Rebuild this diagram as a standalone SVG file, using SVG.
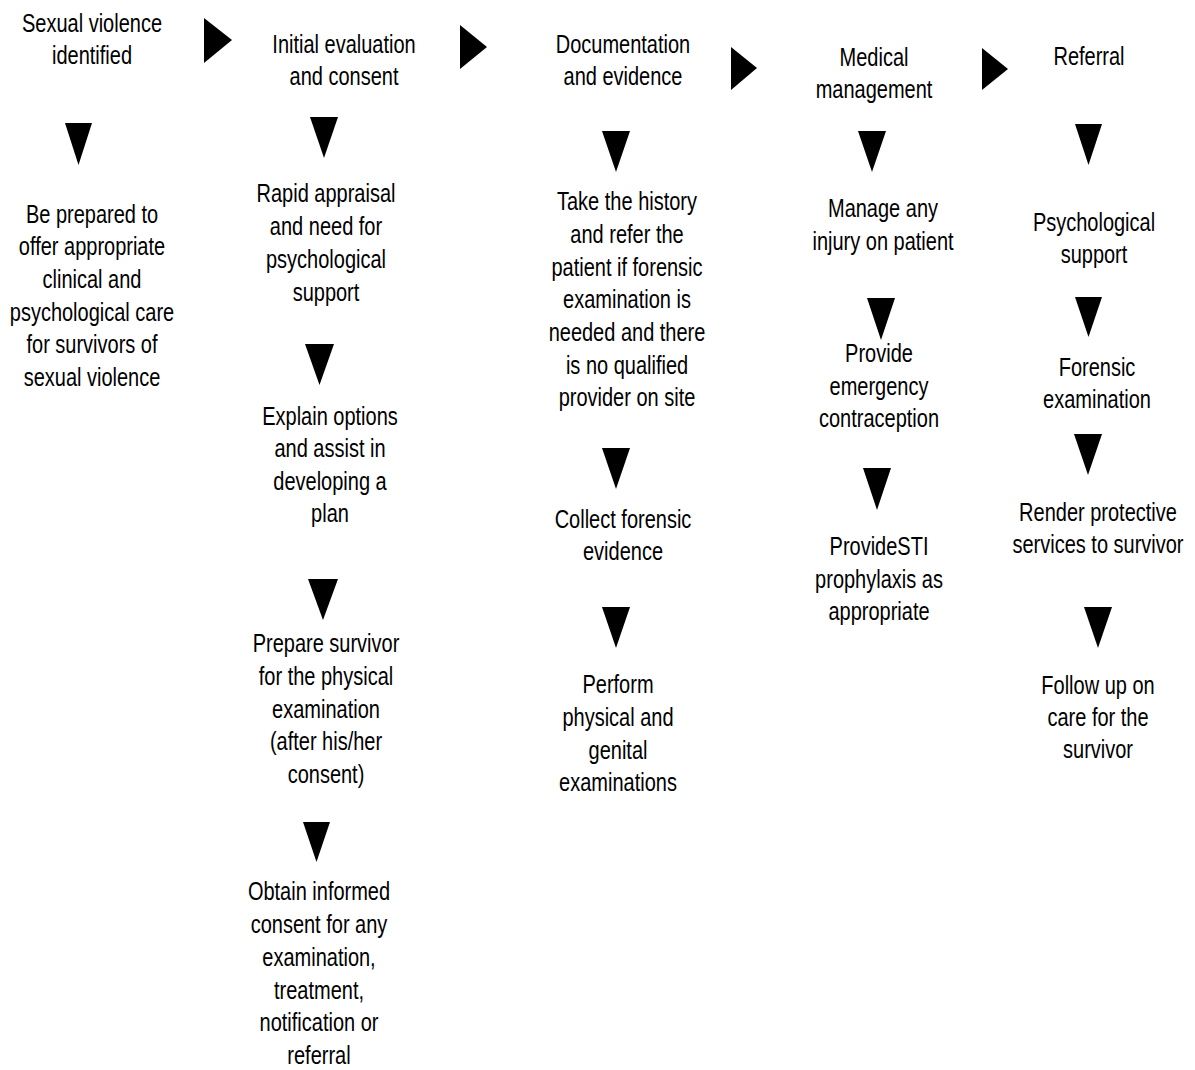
<svg xmlns="http://www.w3.org/2000/svg" width="1195" height="1070" viewBox="0 0 1195 1070">
<style>
text{font-family:"Liberation Sans",Arial,sans-serif;font-size:25px;fill:#000;text-anchor:middle}
.tri{fill:#000;stroke:none}
</style>
<rect width="1195" height="1070" fill="#fff"/>
<g id="connectors">
<polygon class="tri" points="204,18 204,63 232,40"/>
<polygon class="tri" points="460,25 460,69 487,47"/>
<polygon class="tri" points="731,47 731,90 757,68"/>
<polygon class="tri" points="982,48 982,90 1008,69"/>
<polygon class="tri" points="65,123 92,123 78.5,165"/>
<polygon class="tri" points="310,117 338,117 324,158"/>
<polygon class="tri" points="305,344 334,344 319.5,385"/>
<polygon class="tri" points="308,579 338,579 323,620"/>
<polygon class="tri" points="303,822 330,822 316.5,862"/>
<polygon class="tri" points="602,131 630,131 616,172"/>
<polygon class="tri" points="602,448 630,448 616,489"/>
<polygon class="tri" points="602,607 630,607 616,648"/>
<polygon class="tri" points="858,131 886,131 872,172"/>
<polygon class="tri" points="867,298 895,298 881,340"/>
<polygon class="tri" points="863,468 891,468 877,510"/>
<polygon class="tri" points="1075,124 1102,124 1088.5,165"/>
<polygon class="tri" points="1075,297 1102,297 1088.5,337"/>
<polygon class="tri" points="1074,434 1102,434 1088,475"/>
<polygon class="tri" points="1084,607 1112,607 1098,648"/>
</g>
<g id="n-sv-identified" transform="translate(92 0) scale(0.8 1)"><text x="0" y="32">Sexual violence</text><text x="0" y="64">identified</text></g>
<g id="n-be-prepared" transform="translate(92 0) scale(0.8 1)"><text x="0" y="223">Be prepared to</text><text x="0" y="255">offer appropriate</text><text x="0" y="288">clinical and</text><text x="0" y="321">psychological care</text><text x="0" y="353">for survivors of</text><text x="0" y="386">sexual violence</text></g>
<g id="n-initial" transform="translate(344 0) scale(0.8 1)"><text x="0" y="53">Initial evaluation</text><text x="0" y="85">and consent</text></g>
<g id="n-rapid" transform="translate(326 0) scale(0.8 1)"><text x="0" y="202">Rapid appraisal</text><text x="0" y="235">and need for</text><text x="0" y="268">psychological</text><text x="0" y="301">support</text></g>
<g id="n-explain" transform="translate(330 0) scale(0.8 1)"><text x="0" y="425">Explain options</text><text x="0" y="457">and assist in</text><text x="0" y="490">developing a</text><text x="0" y="522">plan</text></g>
<g id="n-prepare" transform="translate(326 0) scale(0.8 1)"><text x="0" y="652">Prepare survivor</text><text x="0" y="685">for the physical</text><text x="0" y="718">examination</text><text x="0" y="750">(after his/her</text><text x="0" y="783">consent)</text></g>
<g id="n-obtain" transform="translate(319 0) scale(0.8 1)"><text x="0" y="900">Obtain informed</text><text x="0" y="933">consent for any</text><text x="0" y="966">examination,</text><text x="0" y="999">treatment,</text><text x="0" y="1031">notification or</text><text x="0" y="1064">referral</text></g>
<g id="n-documentation" transform="translate(623 0) scale(0.8 1)"><text x="0" y="53">Documentation</text><text x="0" y="85">and evidence</text></g>
<g id="n-history" transform="translate(627 0) scale(0.8 1)"><text x="0" y="210">Take the history</text><text x="0" y="243">and refer the</text><text x="0" y="276">patient if forensic</text><text x="0" y="308">examination is</text><text x="0" y="341">needed and there</text><text x="0" y="374">is no qualified</text><text x="0" y="406">provider on site</text></g>
<g id="n-collect" transform="translate(623 0) scale(0.8 1)"><text x="0" y="528">Collect forensic</text><text x="0" y="560">evidence</text></g>
<g id="n-perform" transform="translate(618 0) scale(0.8 1)"><text x="0" y="693">Perform</text><text x="0" y="726">physical and</text><text x="0" y="759">genital</text><text x="0" y="791">examinations</text></g>
<g id="n-medical" transform="translate(874 0) scale(0.8 1)"><text x="0" y="66">Medical</text><text x="0" y="98">management</text></g>
<g id="n-manage" transform="translate(883 0) scale(0.8 1)"><text x="0" y="217">Manage any</text><text x="0" y="250">injury on patient</text></g>
<g id="n-ec" transform="translate(879 0) scale(0.8 1)"><text x="0" y="362">Provide</text><text x="0" y="395">emergency</text><text x="0" y="427">contraception</text></g>
<g id="n-sti" transform="translate(879 0) scale(0.8 1)"><text x="0" y="555">ProvideSTI</text><text x="0" y="588">prophylaxis as</text><text x="0" y="620">appropriate</text></g>
<g id="n-referral" transform="translate(1089 0) scale(0.8 1)"><text x="0" y="65">Referral</text></g>
<g id="n-psych" transform="translate(1094 0) scale(0.8 1)"><text x="0" y="231">Psychological</text><text x="0" y="263">support</text></g>
<g id="n-forensic" transform="translate(1097 0) scale(0.8 1)"><text x="0" y="376">Forensic</text><text x="0" y="408">examination</text></g>
<g id="n-render" transform="translate(1098 0) scale(0.8 1)"><text x="0" y="521">Render protective</text><text x="0" y="553">services to survivor</text></g>
<g id="n-follow" transform="translate(1098 0) scale(0.8 1)"><text x="0" y="694">Follow up on</text><text x="0" y="726">care for the</text><text x="0" y="758">survivor</text></g>
</svg>
